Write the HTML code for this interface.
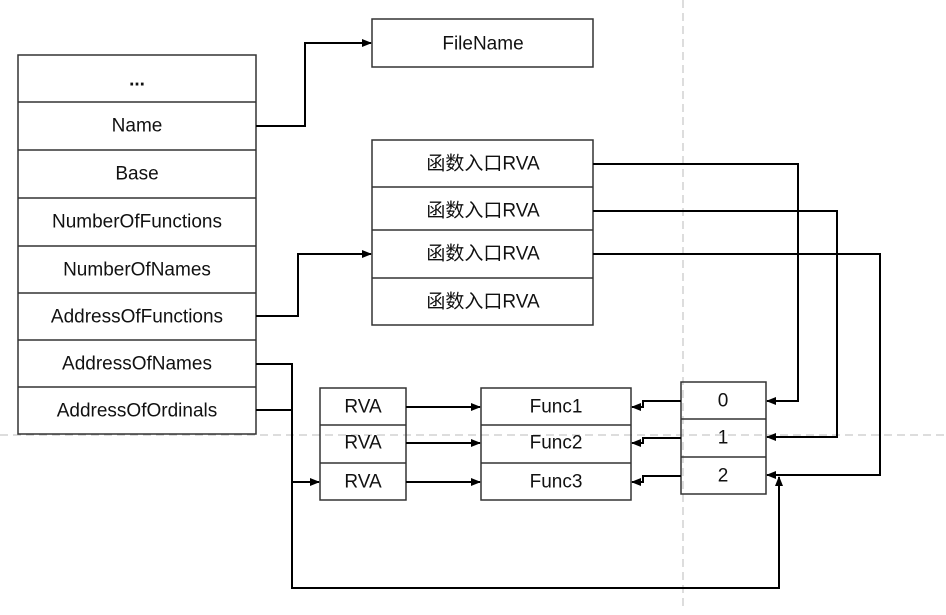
<!DOCTYPE html>
<html><head><meta charset="utf-8"><style>
body{margin:0;background:#fff;}
svg text{font-family:"Liberation Sans","Noto Sans CJK SC",sans-serif;font-size:19px;fill:#111;text-anchor:middle;dominant-baseline:central;}
</style></head><body>
<svg width="946" height="610" xmlns="http://www.w3.org/2000/svg">
<defs><marker id="a" markerWidth="10" markerHeight="8" refX="9" refY="4" orient="auto" markerUnits="userSpaceOnUse"><path d="M0,0 L10,4 L0,8 z" fill="#000"/></marker></defs>
<line x1="683" y1="0" x2="683" y2="610" stroke="#bbb" stroke-dasharray="8,5"/>
<line x1="0" y1="435" x2="946" y2="435" stroke="#bbb" stroke-dasharray="8,5"/>
<g fill="none" stroke="#333" stroke-width="1.5">
<rect x="18" y="55" width="238" height="379"/>
<line x1="18" y1="102" x2="256" y2="102"/><line x1="18" y1="150" x2="256" y2="150"/>
<line x1="18" y1="198" x2="256" y2="198"/><line x1="18" y1="246" x2="256" y2="246"/>
<line x1="18" y1="293" x2="256" y2="293"/><line x1="18" y1="340" x2="256" y2="340"/>
<line x1="18" y1="387" x2="256" y2="387"/>
<rect x="372" y="19" width="221" height="48"/>
<rect x="372" y="140" width="221" height="185"/>
<line x1="372" y1="187" x2="593" y2="187"/><line x1="372" y1="230" x2="593" y2="230"/><line x1="372" y1="278" x2="593" y2="278"/>
<rect x="320" y="388" width="86" height="112"/>
<line x1="320" y1="425" x2="406" y2="425"/><line x1="320" y1="463" x2="406" y2="463"/>
<rect x="481" y="388" width="150" height="112"/>
<line x1="481" y1="425" x2="631" y2="425"/><line x1="481" y1="463" x2="631" y2="463"/>
<rect x="681" y="382" width="85" height="112"/>
<line x1="681" y1="419" x2="766" y2="419"/><line x1="681" y1="457" x2="766" y2="457"/>
</g>
<g fill="none" stroke="#000" stroke-width="2">
<polyline points="256,126 305,126 305,43 371,43" marker-end="url(#a)"/>
<polyline points="256,316 298,316 298,254 371,254" marker-end="url(#a)"/>
<polyline points="256,364 292,364 292,482 319,482" marker-end="url(#a)"/>
<polyline points="256,410 292,410"/>
<polyline points="292,482 292,588 779,588 779,477" marker-end="url(#a)"/>
<line x1="406" y1="407" x2="480" y2="407" marker-end="url(#a)"/>
<line x1="406" y1="443" x2="480" y2="443" marker-end="url(#a)"/>
<line x1="406" y1="482" x2="480" y2="482" marker-end="url(#a)"/>
<polyline points="681,401 643,401 643,407 632,407" marker-end="url(#a)"/>
<polyline points="681,438 643,438 643,443 632,443" marker-end="url(#a)"/>
<polyline points="681,476 643,476 643,482 632,482" marker-end="url(#a)"/>
<polyline points="593,164 798,164 798,401 767,401" marker-end="url(#a)"/>
<polyline points="593,211 837,211 837,437 767,437" marker-end="url(#a)"/>
<polyline points="593,254 880,254 880,475 767,475" marker-end="url(#a)"/>
</g>
<text x="137" y="80" font-weight="bold">...</text>
<text x="137" y="126">Name</text>
<text x="137" y="174">Base</text>
<text x="137" y="222">NumberOfFunctions</text>
<text x="137" y="270">NumberOfNames</text>
<text x="137" y="317">AddressOfFunctions</text>
<text x="137" y="364">AddressOfNames</text>
<text x="137" y="411">AddressOfOrdinals</text>
<text x="483" y="44">FileName</text>
<text x="483" y="164">函数入口RVA</text>
<text x="483" y="211">函数入口RVA</text>
<text x="483" y="254">函数入口RVA</text>
<text x="483" y="302">函数入口RVA</text>
<text x="363" y="407">RVA</text><text x="363" y="443">RVA</text><text x="363" y="482">RVA</text>
<text x="556" y="407">Func1</text><text x="556" y="443">Func2</text><text x="556" y="482">Func3</text>
<text x="723" y="401">0</text><text x="723" y="438">1</text><text x="723" y="476">2</text>
</svg>
</body></html>
